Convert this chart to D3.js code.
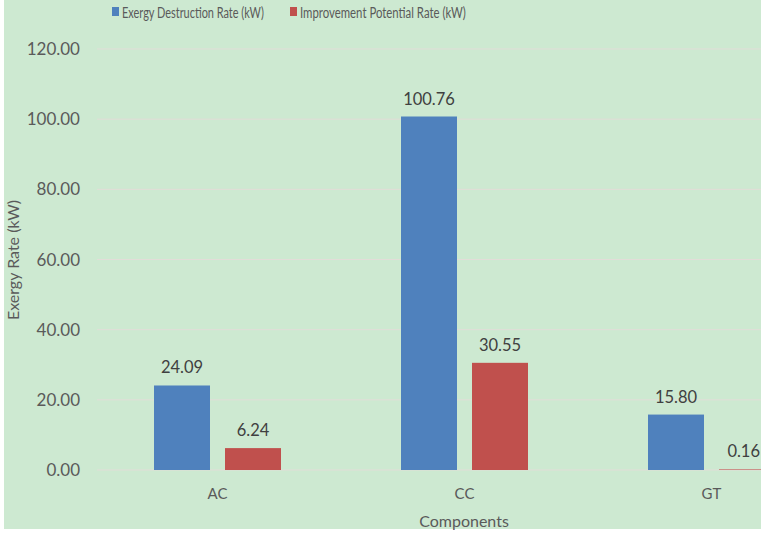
<!DOCTYPE html>
<html>
<head>
<meta charset="utf-8">
<script src="https://cdn.jsdelivr.net/npm/d3@7"></script>
<style>
  body { margin: 0; background: #fff; }
  svg text { font-family: Lato, "Open Sans", sans-serif; }
</style>
</head>
<body>
<div id="chart"></div>
<script>
// chart data
const categories = ["AC", "CC", "GT"];
const seriesNames = ["Exergy Destruction Rate (kW)", "Improvement Potential Rate (kW)"];
const destructionRate = [24.09, 100.76, 15.80];
const improvementRate = [6.24, 30.55, 0.16];
const yTicks = [0, 20, 40, 60, 80, 100, 120];

const width = 761, height = 535;
const colors = ["#4f81bd", "#c0504d"];

const svg = d3.select("#chart").append("svg")
    .attr("width", width)
    .attr("height", height);

// green chart area
svg.append("rect")
    .attr("x", 4).attr("y", 0)
    .attr("width", width - 4).attr("height", 529)
    .attr("fill", "#cde9d1");

// plot extends past the right edge (the picture is cropped)
const xScale = d3.scaleBand()
    .domain(categories)
    .range([94, 835])
    .paddingInner(0).paddingOuter(0);

const yScale = d3.scaleLinear()
    .domain([0, 120])
    .range([470, 49]);

const barWidth = 56;
const barGap = 15;

// gridlines
svg.append("g").selectAll("line")
    .data(yTicks)
    .enter().append("line")
    .attr("x1", 97).attr("x2", width)
    .attr("y1", d => yScale(d)).attr("y2", d => yScale(d))
    .attr("stroke", "#e2ddd8")
    .attr("stroke-width", 1);

// y tick labels
svg.append("g").selectAll("text")
    .data(yTicks)
    .enter().append("text")
    .attr("x", 80)
    .attr("y", d => yScale(d) + 6)
    .attr("text-anchor", "end")
    .attr("font-size", 17)
    .attr("fill", "#5a5a5a")
    .text(d => d3.format(".2f")(d));

// bars
const series = [destructionRate, improvementRate];
series.forEach((values, s) => {
    const offset = s === 0 ? -(barWidth + barGap / 2) : barGap / 2;
    const g = svg.append("g");
    g.selectAll("rect")
        .data(values)
        .enter().append("rect")
        .attr("x", (d, i) => xScale(categories[i]) + xScale.bandwidth() / 2 + offset)
        .attr("y", d => yScale(d))
        .attr("width", barWidth)
        .attr("height", d => yScale(0) - yScale(d))
        .attr("fill", colors[s]);
    g.selectAll("text")
        .data(values)
        .enter().append("text")
        .attr("x", (d, i) => xScale(categories[i]) + xScale.bandwidth() / 2 + offset + barWidth / 2)
        .attr("y", d => yScale(d) - 12)
        .attr("text-anchor", "middle")
        .attr("font-size", 16.5)
        .attr("fill", "#404040")
        .text(d => d3.format(".2f")(d))
        .each(function () {
            // keep labels inside the picture's right edge
            const box = this.getBBox();
            if (box.x + box.width > width - 1) {
                d3.select(this).attr("text-anchor", "end").attr("x", width - 1);
            }
        });
});

// category labels
svg.append("g").selectAll("text")
    .data(categories)
    .enter().append("text")
    .attr("x", d => xScale(d) + xScale.bandwidth() / 2)
    .attr("y", 499)
    .attr("text-anchor", "middle")
    .attr("font-size", 15)
    .attr("fill", "#5a5a5a")
    .text(d => d);

// axis titles
svg.append("text")
    .attr("x", 464).attr("y", 527)
    .attr("text-anchor", "middle")
    .attr("font-size", 16)
    .attr("fill", "#5a5a5a")
    .text("Components");

svg.append("text")
    .attr("transform", "translate(19,260) rotate(-90)")
    .attr("text-anchor", "middle")
    .attr("font-size", 16)
    .attr("fill", "#5a5a5a")
    .text("Exergy Rate (kW)");

// legend (text squeezed horizontally to look like the narrow original font)
const legendX = [112, 290];
const legendTextWidth = [142, 166];
seriesNames.forEach((name, i) => {
    svg.append("rect")
        .attr("x", legendX[i]).attr("y", 7)
        .attr("width", 7).attr("height", 9)
        .attr("fill", colors[i]);
    const t = svg.append("text")
        .attr("font-size", 16)
        .attr("fill", "#5a5a5a")
        .text(name);
    const natural = t.node().getComputedTextLength();
    t.attr("transform", `translate(${legendX[i] + 10},18) scale(${legendTextWidth[i] / natural},1)`);
});
</script>
</body>
</html>
